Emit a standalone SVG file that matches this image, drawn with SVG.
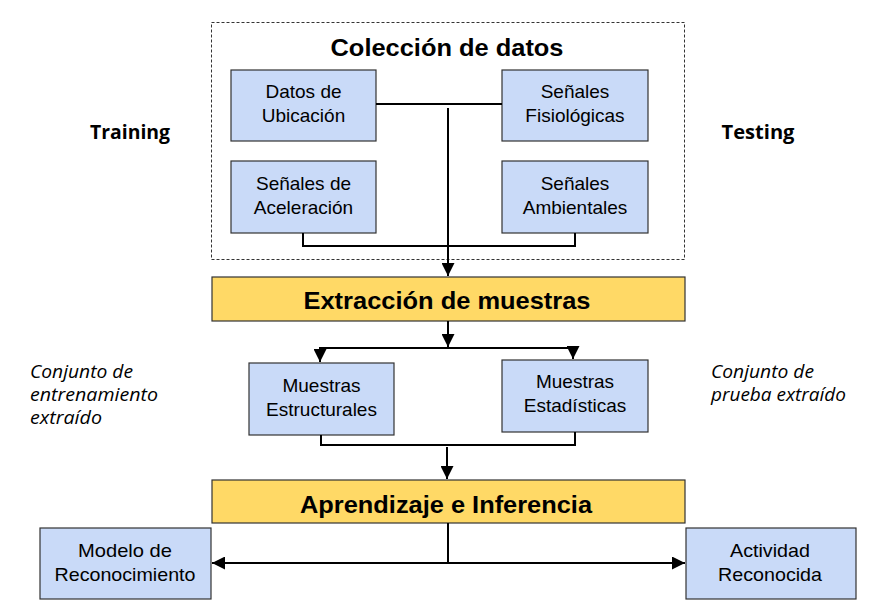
<svg xmlns="http://www.w3.org/2000/svg" width="880" height="608" viewBox="0 0 880 608">
<style>
.box{fill:#C9DAF8;stroke:#333;stroke-width:1.2}
.ybox{fill:#FFD966;stroke:#333;stroke-width:1.2}
.t{font-family:"Liberation Sans",Arial,sans-serif;font-size:19px;fill:#000;text-anchor:middle}
.tb{font-family:"Liberation Sans",Arial,sans-serif;font-size:24px;font-weight:bold;fill:#000;text-anchor:middle}
.lbl{font-family:"Open Sans","DejaVu Sans",sans-serif;font-size:19px;font-weight:bold;fill:#000;text-anchor:middle}
.it{font-family:"Open Sans","DejaVu Sans",sans-serif;font-size:18px;font-style:italic;fill:#000}
.ln{fill:none;stroke:#000;stroke-width:2}
</style>
<defs>
<marker id="ah" viewBox="0 0 10 10" refX="10" refY="5" markerWidth="6.5" markerHeight="6.5" markerUnits="strokeWidth" orient="auto">
<path d="M0,0 L10,5 L0,10 Z" fill="#000"/>
</marker>
<marker id="ahs" viewBox="0 0 10 10" refX="0" refY="5" markerWidth="6.5" markerHeight="6.5" markerUnits="strokeWidth" orient="auto">
<path d="M10,0 L0,5 L10,10 Z" fill="#000"/>
</marker>
</defs>
<rect width="880" height="608" fill="#fff"/>
<g id="coleccion">
<rect x="211.5" y="22.5" width="473" height="237" fill="none" stroke="#333" stroke-width="1" stroke-dasharray="3,2"/>
<text class="tb" x="447" y="56" textLength="233" lengthAdjust="spacingAndGlyphs">Colección de datos</text>
</g>
<g id="training"><text class="lbl" x="130" y="139" textLength="80" lengthAdjust="spacingAndGlyphs">Training</text></g>
<g id="testing"><text class="lbl" x="758" y="139" textLength="73" lengthAdjust="spacingAndGlyphs">Testing</text></g>
<g id="ubicacion"><rect class="box" x="231" y="70" width="145" height="71"/><text class="t" x="303.5" y="98">Datos de</text><text class="t" x="303.5" y="122">Ubicación</text></g>
<g id="fisiologicas"><rect class="box" x="502" y="70" width="146" height="71"/><text class="t" x="575" y="98">Señales</text><text class="t" x="575" y="122">Fisiológicas</text></g>
<g id="aceleracion"><rect class="box" x="231" y="161" width="145" height="72"/><text class="t" x="303.5" y="190">Señales de</text><text class="t" x="303.5" y="214">Aceleración</text></g>
<g id="ambientales"><rect class="box" x="502" y="161" width="146" height="72"/><text class="t" x="575" y="190">Señales</text><text class="t" x="575" y="214">Ambientales</text></g>
<g id="extraccion"><rect class="ybox" x="212" y="277" width="473" height="44"/><text class="tb" x="447" y="309" textLength="287" lengthAdjust="spacingAndGlyphs">Extracción de muestras</text></g>
<g id="estructurales"><rect class="box" x="249" y="363" width="145" height="72"/><text class="t" x="321.5" y="392">Muestras</text><text class="t" x="321.5" y="416">Estructurales</text></g>
<g id="estadisticas"><rect class="box" x="502" y="360" width="146" height="72"/><text class="t" x="575" y="388">Muestras</text><text class="t" x="575" y="412">Estadísticas</text></g>
<g id="entrenamiento"><text class="it" x="30" y="378" textLength="103" lengthAdjust="spacingAndGlyphs">Conjunto de</text><text class="it" x="30" y="401" textLength="128" lengthAdjust="spacingAndGlyphs">entrenamiento</text><text class="it" x="30" y="424" textLength="72" lengthAdjust="spacingAndGlyphs">extraído</text></g>
<g id="prueba"><text class="it" x="711" y="378" textLength="103" lengthAdjust="spacingAndGlyphs">Conjunto de</text><text class="it" x="711" y="401" textLength="135" lengthAdjust="spacingAndGlyphs">prueba extraído</text></g>
<g id="aprendizaje"><rect class="ybox" x="212" y="480" width="473" height="43"/><text class="tb" x="446" y="513" textLength="292" lengthAdjust="spacingAndGlyphs">Aprendizaje e Inferencia</text></g>
<g id="modelo"><rect class="box" x="40" y="528" width="171" height="71"/><text class="t" x="125" y="557" font-size="19" textLength="94" lengthAdjust="spacingAndGlyphs">Modelo de</text><text class="t" x="125" y="581" font-size="19" textLength="141" lengthAdjust="spacingAndGlyphs">Reconocimiento</text></g>
<g id="actividad"><rect class="box" x="686" y="528" width="170" height="71"/><text class="t" x="770" y="557" font-size="19" textLength="80" lengthAdjust="spacingAndGlyphs">Actividad</text><text class="t" x="770" y="581" font-size="19" textLength="104" lengthAdjust="spacingAndGlyphs">Reconocida</text></g>
<g id="connectors">
<path class="ln" d="M376,104 H502"/>
<path class="ln" d="M303,233 V246 H575 V233"/>
<path class="ln" d="M448,108 V276" marker-end="url(#ah)"/>
<path class="ln" d="M448,321 V347" marker-end="url(#ah)"/>
<path class="ln" d="M448,348 H320 V362" marker-end="url(#ah)"/>
<path class="ln" d="M448,348 H573 V359" marker-end="url(#ah)"/>
<path class="ln" d="M321,435 V445 H575 V432"/>
<path class="ln" d="M447,447 V479" marker-end="url(#ah)"/>
<path class="ln" d="M448,523 V563"/>
<path class="ln" d="M212,563 H685" marker-start="url(#ahs)" marker-end="url(#ah)"/>
</g>
</svg>
